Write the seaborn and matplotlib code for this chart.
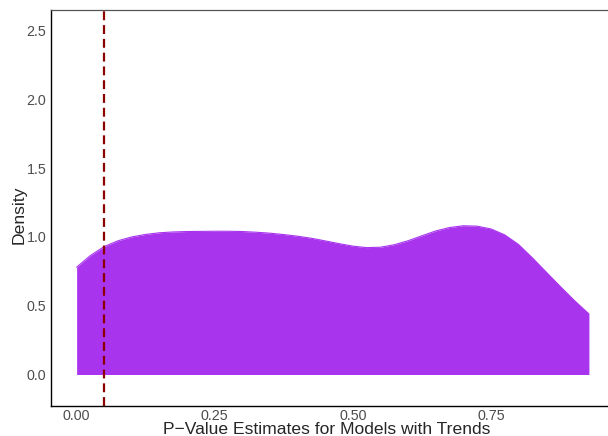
import matplotlib
matplotlib.use("Agg")
import matplotlib.pyplot as plt
import seaborn as sns
import pandas as pd

# Estimated density of p-values for models with trends
p_value = [0.000, 0.025, 0.050, 0.075, 0.100, 0.125, 0.150, 0.175, 0.200, 0.225,
           0.250, 0.275, 0.300, 0.325, 0.350, 0.375, 0.400, 0.425, 0.450, 0.475,
           0.500, 0.525, 0.550, 0.575, 0.600, 0.625, 0.650, 0.675, 0.700, 0.725,
           0.750, 0.775, 0.800, 0.825, 0.850, 0.875, 0.900, 0.9275]
density = [0.78, 0.865, 0.93, 0.972, 1.000, 1.018, 1.030, 1.036, 1.039, 1.040,
           1.041, 1.041, 1.039, 1.034, 1.027, 1.017, 1.005, 0.990, 0.971, 0.951,
           0.933, 0.922, 0.925, 0.943, 0.972, 1.008, 1.043, 1.068, 1.081, 1.078,
           1.058, 1.015, 0.945, 0.848, 0.745, 0.642, 0.542, 0.440]
threshold = 0.05
x_ticks = [0.00, 0.25, 0.50, 0.75]
x_tick_labels = ["0.00", "0.25", "0.50", "0.75"]
y_ticks = [0.0, 0.5, 1.0, 1.5, 2.0, 2.5]
y_tick_labels = ["0.0", "0.5", "1.0", "1.5", "2.0", "2.5"]

df = pd.DataFrame({"p": p_value, "density": density})

sns.set_style("white")
plt.rcParams["font.family"] = ["Liberation Sans", "DejaVu Sans"]

W, H = 608, 436
fig = plt.figure(figsize=(W / 100, H / 100), dpi=100)
left, right, bottom, top = 51, 614.6, 406, 10
ax = fig.add_axes([left / W, (H - bottom) / H, (right - left) / W, (bottom - top) / H])

fill_color = "#A934EE"
ax.fill_between(df["p"], 0, df["density"], color=fill_color, linewidth=0, zorder=2)
sns.lineplot(data=df, x="p", y="density", ax=ax, color=fill_color, linewidth=0.8, zorder=3)
ax.axvline(threshold, color="#8B0000", linewidth=1.6, dashes=(4.0, 2.2), zorder=4)

ax.set_xlim(-0.0464, 0.974)
ax.set_ylim(-0.229, 2.649)
ax.set_xticks(x_ticks, x_tick_labels)
ax.set_yticks(y_ticks, y_tick_labels)
ax.tick_params(axis="both", length=2, width=0.6, color="#4D4D4D",
               labelcolor="#4D4D4D", labelsize=10.3, pad=1.5)
ax.tick_params(axis="x", length=0, pad=2)

for side in ["left", "bottom"]:
    ax.spines[side].set_color("black")
    ax.spines[side].set_linewidth(1.0)
ax.spines["top"].set_color("#555555")
ax.spines["top"].set_linewidth(0.9)
ax.spines["right"].set_visible(False)

ax.set_xlabel("P\u2212Value Estimates for Models with Trends", fontsize=12.6)
ax.xaxis.set_label_coords((326.5 - left) / (right - left), -23 / (bottom - top), transform=ax.transAxes)
ax.xaxis.label.set_verticalalignment("center")
ax.set_ylabel("Density", fontsize=12.6)
ax.yaxis.set_label_coords((19 - left) / (right - left), (bottom - 215) / (bottom - top), transform=ax.transAxes)
ax.yaxis.label.set_verticalalignment("center")

fig.savefig("out.png", dpi=100)
